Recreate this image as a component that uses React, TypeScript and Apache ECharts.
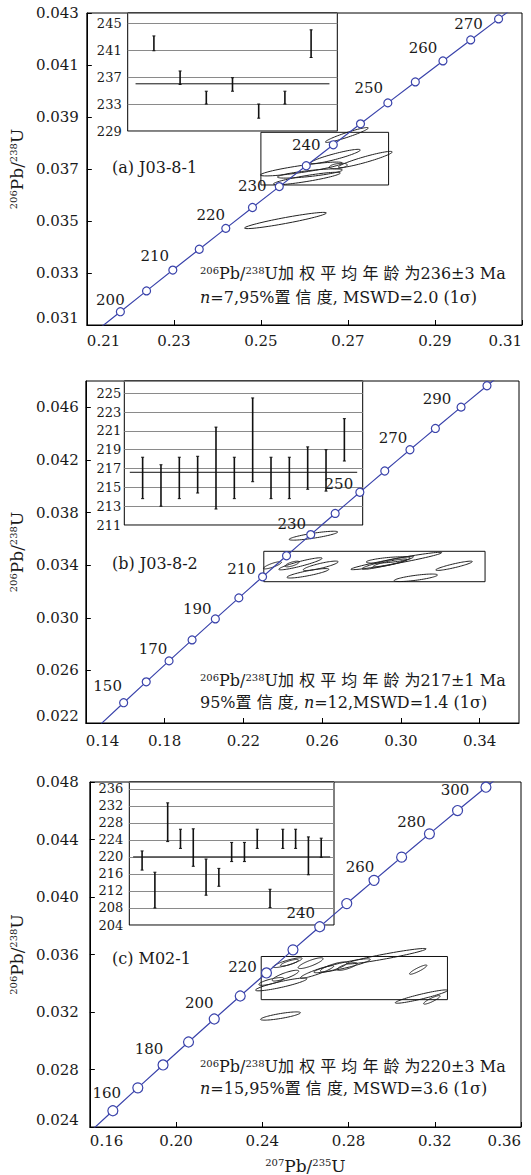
import React, { useEffect, useRef } from "react";
import * as echarts from "echarts";

// ---------- Concordia reference points (age in Ma, 207Pb/235U, 206Pb/238U) ----------
const CONC_AGES = [140, 150, 160, 170, 180, 190, 195, 200, 205, 210, 215, 220, 225, 230, 235, 240, 245, 250, 255, 260, 265, 270, 275, 280, 290, 300, 310];
const CONC_X = [0.147837, 0.159197, 0.17067, 0.182256, 0.193957, 0.205774, 0.211726, 0.217708, 0.223719, 0.229759, 0.23583, 0.24193, 0.248061, 0.254222, 0.260413, 0.266635, 0.272888, 0.279171, 0.285486, 0.291832, 0.298209, 0.304617, 0.311057, 0.317529, 0.330569, 0.343738, 0.357037];
const CONC_Y = [0.021955, 0.0235416, 0.0251306, 0.026722, 0.028316, 0.0299124, 0.0307115, 0.0315113, 0.0323117, 0.0331127, 0.0339143, 0.0347165, 0.0355194, 0.0363229, 0.037127, 0.0379317, 0.0387371, 0.0395431, 0.0403497, 0.0411569, 0.0419648, 0.0427733, 0.0435824, 0.0443921, 0.0460135, 0.0476374, 0.0492638];

// ---------- Panel (a) J03-8-1 ----------
const A_AGE_LABELS = [200, 210, 220, 230, 240, 250, 260, 270];
// ellipse: [x centre, y centre, x half-extent, y offset at x end, y half-thickness]
const A_ELLIPSES = [
  [0.25564, 0.035019, 0.0094, 0.00029, 0.000115],
  [0.26975, 0.038308, 0.00493, 0.00027, 0.000096],
  [0.26711, 0.037481, 0.00573, 0.00025, 0.000115],
  [0.27399, 0.037365, 0.00619, 0.00029, 0.000115],
  [0.25931, 0.037, 0.0094, 0.00023, 0.000135],
  [0.26126, 0.036827, 0.00745, 0.000135, 0.000115],
  [0.26057, 0.036635, 0.00768, 0.00021, 0.000115],
  [0.2678, 0.037115, 0.00206, 0.00004, 0.000096],
];
const A_BOX = [0.25, 0.036385, 0.27934, 0.038411];
const A_AGE_LOW = [240.9, 235.9, 233.0, 234.9, 230.9, 233.0, 239.9];
const A_AGE_HIGH = [243.1, 237.9, 234.9, 236.9, 233.0, 234.9, 244.0];
const A_MEAN = 236;

// ---------- Panel (b) J03-8-2 ----------
const B_AGE_LABELS = [150, 170, 190, 210, 230, 250, 270, 290];
const B_ELLIPSES = [
  [0.25558, 0.036239, 0.01232, 0.000281, 0.00019],
  [0.23479, 0.033989, 0.00456, 0.000228, 0.000152],
  [0.24899, 0.034103, 0.011, 0.000418, 0.00019],
  [0.24478, 0.034088, 0.00355, 0.000152, 0.000152],
  [0.25929, 0.033951, 0.00887, 0.000304, 0.00019],
  [0.25279, 0.033381, 0.01065, 0.000304, 0.00019],
  [0.29765, 0.034316, 0.02306, 0.000631, 0.00019],
  [0.29334, 0.034179, 0.01308, 0.000456, 0.00019],
  [0.29359, 0.034392, 0.01115, 0.000152, 0.00019],
  [0.30759, 0.033039, 0.011, 0.000213, 0.00019],
  [0.327, 0.033951, 0.00928, 0.000319, 0.000152],
  [0.29452, 0.034164, 0.00862, 0.000266, 0.000152],
];
const B_BOX = [0.23038, 0.032742, 0.34276, 0.035053];
const B_AGE_LOW = [213.8, 213.0, 213.8, 214.4, 212.7, 213.8, 215.6, 213.8, 213.8, 214.8, 214.6, 217.8];
const B_AGE_HIGH = [218.2, 217.4, 218.2, 218.3, 221.4, 218.2, 224.5, 218.2, 218.2, 219.3, 219.0, 222.3];
const B_MEAN = 216.6;

// ---------- Panel (c) M02-1 ----------
const C_AGE_LABELS = [160, 180, 200, 220, 240, 260, 280, 300];
const C_ELLIPSES = [
  [0.24843, 0.03172, 0.00926, 0.000229, 0.000173],
  [0.25176, 0.035431, 0.00671, 0.000291, 0.000173],
  [0.25259, 0.035424, 0.00417, 0.000187, 0.000139],
  [0.26241, 0.035397, 0.00579, 0.000312, 0.000208],
  [0.25074, 0.034529, 0.00616, 0.000312, 0.000208],
  [0.2488, 0.033919, 0.01194, 0.000395, 0.000208],
  [0.24417, 0.034127, 0.00579, 0.000208, 0.000173],
  [0.26542, 0.034786, 0.00773, 0.000402, 0.000173],
  [0.27699, 0.035216, 0.0131, 0.000437, 0.000208],
  [0.2731, 0.035133, 0.00616, 0.000277, 0.000208],
  [0.27931, 0.035168, 0.00463, 0.000208, 0.000173],
  [0.29764, 0.035882, 0.01838, 0.000509, 0.000173],
  [0.31231, 0.034946, 0.00403, 0.000291, 0.000139],
  [0.3138, 0.033073, 0.01213, 0.00043, 0.000173],
  [0.31866, 0.032844, 0.00384, 0.000264, 0.000139],
];
const C_BOX = [0.23949, 0.032858, 0.32588, 0.035861];
const C_AGE_LOW = [216.9, 208.0, 223.6, 222.0, 217.8, 211.0, 213.1, 218.9, 218.9, 222.0, 208.1, 222.0, 222.0, 215.8, 219.9];
const C_AGE_HIGH = [221.4, 216.4, 232.7, 226.5, 226.6, 219.5, 217.3, 223.4, 223.4, 226.5, 212.4, 226.5, 226.5, 224.7, 224.4];
const C_MEAN = 220;

// ---------- styling / layout ----------
const FONT = "'DejaVu Serif', 'Noto Sans CJK SC', serif";
const BLUE = "#3a43ab";
const INK = "#1a1a1a";

const PANELS = [
  {
    grid: { left: 86, top: 13, width: 436, height: 312 },
    inset: { left: 127.7, top: 13, width: 209.6, height: 118 },
    x: [210, 310, 20], y: [31, 43, 2], xDec: 2, yDec: 3,
    xMargin: 8, yMargin: 8, showMaxX: true, showMaxY: true,
    lineAges: [190, 280], markerAges: [200, 270], markerStep: 5, symbolSize: 8,
    labels: A_AGE_LABELS,
    offsets: [[-10, -12], [-18, -14], [-15, -13], [-27, -1], [-27, 0], [-19, -15], [-20, -13], [-30, 5]],
    ellipses: A_ELLIPSES, box: A_BOX,
    low: A_AGE_LOW, high: A_AGE_HIGH, mean: A_MEAN, insetY: [229, 246.5, 4], insetLabelMargin: 6,
  },
  {
    grid: { left: 85, top: 381, width: 434, height: 342 },
    inset: { left: 124.3, top: 381, width: 238.4, height: 144 },
    x: [140, 360, 40], y: [22, 48, 4], xDec: 2, yDec: 3,
    xMargin: 10, yMargin: 7, showMaxX: false, showMaxY: false,
    lineAges: [140, 310], markerAges: [150, 300], markerStep: 10, symbolSize: 8,
    labels: B_AGE_LABELS,
    offsets: [[-16, -17], [-16, -12], [-18, -10], [-21, -8], [-19, -11], [-21, -8], [-17, -12], [-24, -8]],
    ellipses: B_ELLIPSES, box: B_BOX,
    low: B_AGE_LOW, high: B_AGE_HIGH, mean: B_MEAN, insetY: [211, 226.3, 2], insetLabelMargin: 3,
  },
  {
    grid: { left: 89, top: 782, width: 432, height: 346 },
    inset: { left: 129.3, top: 782, width: 204.7, height: 143 },
    x: [160, 360, 40], y: [24, 48, 4], xDec: 2, yDec: 3,
    xMargin: 6, yMargin: 11, showMaxX: true, showMaxY: true,
    lineAges: [150, 310], markerAges: [160, 300], markerStep: 10, symbolSize: 10,
    labels: C_AGE_LABELS,
    offsets: [[-6, -18], [-14, -16], [-15, -16], [-24, -6], [-19, -14], [-14, -13], [-18, -12], [-31, 3]],
    ellipses: C_ELLIPSES, box: C_BOX,
    low: C_AGE_LOW, high: C_AGE_HIGH, mean: C_MEAN, insetY: [204, 237.6, 4], insetLabelMargin: 6,
  },
];

const TEXTS = [
  { label: "(a) J03-8-1", ly: 167, y1: 273, y2: 297,
    l1: "{sup|206}Pb/{sup|238}U加 权 平 均 年 龄 为236±3 Ma",
    l2: "{it|n}=7,95%置 信 度, MSWD=2.0 (1σ)" },
  { label: "(b) J03-8-2", ly: 563, y1: 680, y2: 702,
    l1: "{sup|206}Pb/{sup|238}U加 权 平 均 年 龄 为217±1 Ma",
    l2: "95%置 信 度, {it|n}=12,MSWD=1.4 (1σ)" },
  { label: "(c) M02-1", ly: 958, y1: 1066, y2: 1088,
    l1: "{sup|206}Pb/{sup|238}U加 权 平 均 年 龄 为220±3 Ma",
    l2: "{it|n}=15,95%置 信 度, MSWD=3.6 (1σ)" },
];

const r6 = (v: number) => Math.round(v * 1e6) / 1e6;

function buildOption() {
  const grid: any[] = [];
  const xAxis: any[] = [];
  const yAxis: any[] = [];
  const series: any[] = [];
  const graphic: any[] = [];

  PANELS.forEach((p, pi) => {
    const gMain = grid.length;
    grid.push({ ...p.grid, show: true, borderColor: "#000", borderWidth: 1, backgroundColor: "transparent", containLabel: false });
    const gIn = grid.length;
    grid.push({ ...p.inset, show: true, borderColor: "#000", borderWidth: 1, backgroundColor: "transparent", containLabel: false });

    const [xmin, xmax, xstep] = p.x;
    const [ymin, ymax, ystep] = p.y;
    const tx = (v: number) => r6(v * 1000 - xmin);
    const ty = (v: number) => r6(v * 1000 - ymin);

    xAxis.push({
      type: "value", gridIndex: gMain, min: 0, max: xmax - xmin, interval: xstep,
      axisLine: { show: true, onZero: false, lineStyle: { color: "#000", width: 1 } },
      axisTick: { show: true, inside: true, length: 5, lineStyle: { color: "#000" } },
      splitLine: { show: false },
      axisLabel: {
        margin: p.xMargin, color: INK, fontFamily: FONT, fontSize: 15,
        showMaxLabel: p.showMaxX, showMinLabel: true,
        alignMinLabel: "left", alignMaxLabel: "right",
        formatter: (v: number) => ((v + xmin) / 1000).toFixed(p.xDec),
      },
      ...(pi === 2
        ? {
            name: "{sup|207}Pb/{sup|235}U", nameLocation: "middle", nameGap: 30,
            nameTextStyle: {
              fontFamily: FONT, fontSize: 17, color: INK,
              rich: { sup: { fontFamily: FONT, fontSize: 10, color: INK, verticalAlign: "top" } },
            },
          }
        : {}),
    });
    yAxis.push({
      type: "value", gridIndex: gMain, min: 0, max: ymax - ymin, interval: ystep,
      axisLine: { show: true, onZero: false, lineStyle: { color: "#000", width: 1 } },
      axisTick: { show: true, inside: true, length: 5, lineStyle: { color: "#000" } },
      splitLine: { show: false },
      axisLabel: {
        margin: p.yMargin, color: INK, fontFamily: FONT, fontSize: 15,
        showMaxLabel: p.showMaxY, showMinLabel: true,
        verticalAlignMinLabel: "bottom",
        formatter: (v: number) => ((v + ymin) / 1000).toFixed(p.yDec),
      },
      name: "{sup|206}Pb/{sup|238}U", nameLocation: "middle", nameGap: 56, nameRotate: 90,
      nameTextStyle: {
        fontFamily: FONT, fontSize: 17, color: INK,
        rich: { sup: { fontFamily: FONT, fontSize: 10, color: INK, verticalAlign: "top" } },
      },
    });

    // inset axes
    const n = p.low.length;
    const [iymin, iymax, iystep] = p.insetY;
    xAxis.push({ type: "value", gridIndex: gIn, min: 0, max: n + 1, show: false });
    yAxis.push({
      type: "value", gridIndex: gIn, min: 0, max: r6(iymax - iymin), interval: iystep,
      axisLine: { show: false }, axisTick: { show: false },
      splitLine: { show: true, lineStyle: { color: "#8a8a8a", width: 1 } },
      axisLabel: {
        margin: p.insetLabelMargin, color: INK, fontFamily: FONT, fontSize: 13,
        showMaxLabel: false, showMinLabel: true,
        formatter: (v: number) => (v + iymin).toFixed(0),
      },
    });

    // ellipses
    series.push({
      type: "custom", xAxisIndex: gMain, yAxisIndex: gMain, clip: true, z: 3,
      data: p.ellipses.map((e) => [tx(e[0]), ty(e[1]), r6(e[2] * 1000), r6(e[3] * 1000), r6(e[4] * 1000)]),
      renderItem: (params: any, api: any) => {
        const cx = api.value(0), cy = api.value(1), hx = api.value(2), hdy = api.value(3), th = api.value(4);
        const pts: number[][] = [];
        for (let i = 0; i < 72; i++) {
          const t = (i / 72) * Math.PI * 2;
          pts.push(api.coord([cx + hx * Math.cos(t), cy + hdy * Math.cos(t) + th * Math.sin(t)]));
        }
        return { type: "polygon", shape: { points: pts }, style: { fill: "none", stroke: "#222", lineWidth: 1 } };
      },
    });
    // zoom box
    series.push({
      type: "custom", xAxisIndex: gMain, yAxisIndex: gMain, clip: false, z: 3,
      data: [[tx(p.box[0]), ty(p.box[1]), tx(p.box[2]), ty(p.box[3])]],
      renderItem: (params: any, api: any) => {
        const a = api.coord([api.value(0), api.value(1)]);
        const b = api.coord([api.value(2), api.value(3)]);
        return {
          type: "rect",
          shape: { x: Math.min(a[0], b[0]), y: Math.min(a[1], b[1]), width: Math.abs(b[0] - a[0]), height: Math.abs(b[1] - a[1]) },
          style: { fill: "none", stroke: "#111", lineWidth: 1 },
        };
      },
    });
    // concordia
    const cdata: any[] = [];
    CONC_AGES.forEach((age, i) => {
      if (age < p.lineAges[0] || age > p.lineAges[1]) return;
      const marker = age >= p.markerAges[0] && age <= p.markerAges[1] && age % p.markerStep === 0;
      const li = p.labels.indexOf(age);
      const item: any = { value: [tx(CONC_X[i]), ty(CONC_Y[i])], symbol: marker ? "circle" : "none" };
      if (li >= 0) {
        item.label = {
          show: true, position: "inside", offset: p.offsets[li], formatter: String(age),
          color: INK, fontFamily: FONT, fontSize: 15,
        };
      }
      cdata.push(item);
    });
    series.push({
      type: "line", xAxisIndex: gMain, yAxisIndex: gMain, clip: true, z: 5,
      data: cdata, symbolSize: p.symbolSize, showAllSymbol: true,
      lineStyle: { color: BLUE, width: 1.2 },
      itemStyle: { color: "#fff", borderColor: BLUE, borderWidth: 1.2 },
      label: { show: false },
      emphasis: { disabled: true },
    });

    // inset error bars
    series.push({
      type: "custom", xAxisIndex: gIn, yAxisIndex: gIn, clip: false, z: 4,
      data: p.low.map((lo, i) => [i + 1, r6(lo - iymin), r6(p.high[i] - iymin)]),
      renderItem: (params: any, api: any) => {
        const a = api.coord([api.value(0), api.value(2)]);
        const b = api.coord([api.value(0), api.value(1)]);
        const st = { stroke: "#111", lineWidth: 1.6 };
        return {
          type: "group",
          children: [
            { type: "line", shape: { x1: a[0], y1: a[1], x2: b[0], y2: b[1] }, style: st },
            { type: "line", shape: { x1: a[0] - 1.5, y1: a[1], x2: a[0] + 1.5, y2: a[1] }, style: { stroke: "#111", lineWidth: 1 } },
            { type: "line", shape: { x1: b[0] - 1.5, y1: b[1], x2: b[0] + 1.5, y2: b[1] }, style: { stroke: "#111", lineWidth: 1 } },
          ],
        };
      },
    });
    // weighted mean line
    series.push({
      type: "line", xAxisIndex: gIn, yAxisIndex: gIn, z: 4, symbol: "none",
      data: [[0.3, r6(p.mean - iymin)], [n + 0.7, r6(p.mean - iymin)]],
      lineStyle: { color: "#111", width: 1 },
      emphasis: { disabled: true },
    });

    // texts
    const t = TEXTS[pi];
    const base = { fontFamily: FONT, fontSize: 16, fill: INK };
    const rich = {
      sup: { fontFamily: FONT, fontSize: 10, fill: INK, verticalAlign: "top" },
      it: { fontFamily: FONT, fontSize: 16, fill: INK, fontStyle: "italic" },
    };
    graphic.push({ type: "text", x: 112, y: t.ly, z: 10, style: { ...base, text: t.label, verticalAlign: "middle" } });
    graphic.push({ type: "text", x: 200, y: t.y1, z: 10, style: { ...base, text: t.l1, rich, verticalAlign: "middle" } });
    graphic.push({ type: "text", x: 200, y: t.y2, z: 10, style: { ...base, text: t.l2, rich, verticalAlign: "middle" } });
  });

  return {
    animation: false,
    backgroundColor: "#fff",
    textStyle: { fontFamily: FONT },
    grid, xAxis, yAxis, series, graphic,
  };
}

export default function App() {
  const ref = useRef<HTMLDivElement>(null);
  useEffect(() => {
    const chart = echarts.init(ref.current as HTMLDivElement, undefined, { renderer: "svg" });
    chart.setOption(buildOption() as any);
    return () => chart.dispose();
  }, []);
  return (
    <div
      ref={ref}
      style={{ position: "absolute", left: 0, top: 0, width: 531, height: 1175, background: "#fff" }}
    />
  );
}
